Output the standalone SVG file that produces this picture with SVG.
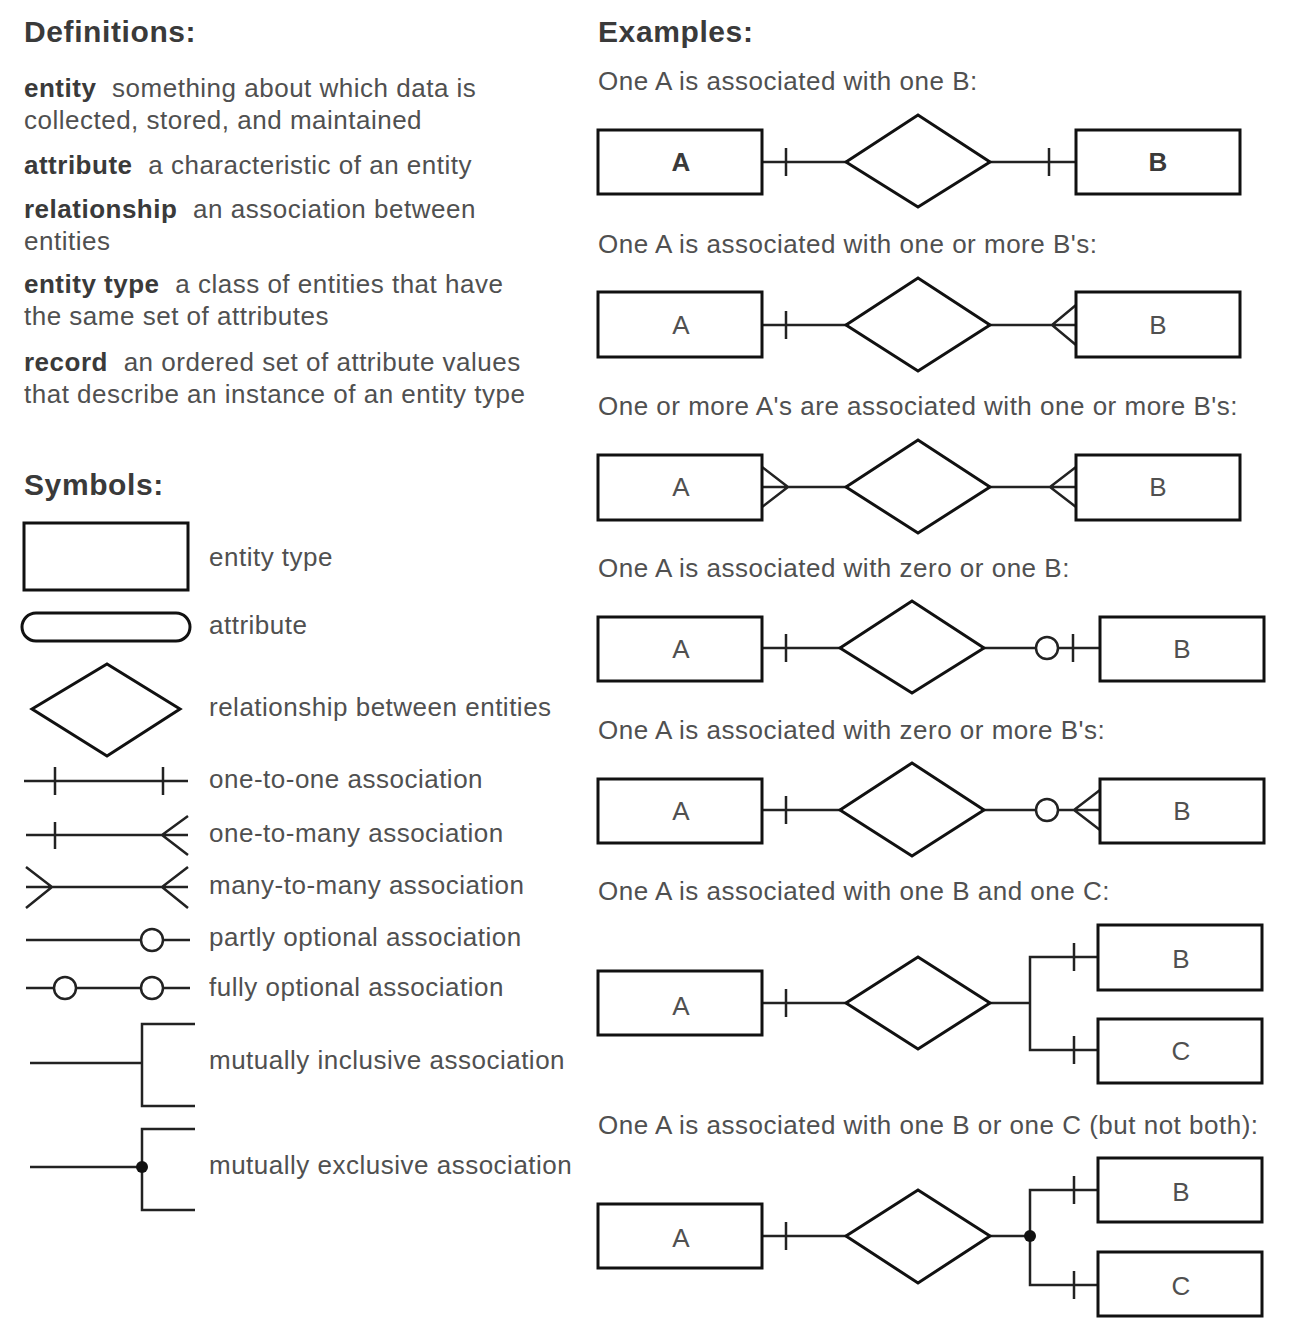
<svg xmlns="http://www.w3.org/2000/svg" width="1296" height="1340" viewBox="0 0 1296 1340">
<style>
text{font-family:"Liberation Sans",Arial,sans-serif;fill:#505050;font-size:26px;letter-spacing:0.5px}
.h{font-weight:bold;font-size:30px;letter-spacing:0.6px;fill:#3a3a3a}
.b{font-weight:bold;fill:#3a3a3a}
.lbl{text-anchor:middle;letter-spacing:0}
.box{fill:#fff;stroke:#111;stroke-width:3}
.ln{fill:none;stroke:#222;stroke-width:2.5}
.circ{fill:#fff;stroke:#222;stroke-width:2.5}
</style>
<rect width="1296" height="1340" fill="#fff"/>

<g id="definitions">
<text class="h" x="24" y="42">Definitions:</text>
<text x="24" y="97"><tspan class="b">entity</tspan> <tspan dx="8">something about which data is</tspan></text>
<text x="24" y="129">collected, stored, and maintained</text>
<text x="24" y="174"><tspan class="b">attribute</tspan> <tspan dx="8">a characteristic of an entity</tspan></text>
<text x="24" y="218"><tspan class="b">relationship</tspan> <tspan dx="8">an association between</tspan></text>
<text x="24" y="250">entities</text>
<text x="24" y="293"><tspan class="b">entity type</tspan> <tspan dx="8">a class of entities that have</tspan></text>
<text x="24" y="325">the same set of attributes</text>
<text x="24" y="371"><tspan class="b">record</tspan> <tspan dx="8">an ordered set of attribute values</tspan></text>
<text x="24" y="403">that describe an instance of an entity type</text>
</g>

<g id="symbols">
<text class="h" x="24" y="495">Symbols:</text>
<g id="sym-entity"><rect class="box" x="24" y="523" width="164" height="67"/><text x="209" y="566">entity type</text></g>
<g id="sym-attribute"><rect class="box" x="22" y="613" width="168" height="28" rx="14"/><text x="209" y="634">attribute</text></g>
<g id="sym-relationship"><polygon class="box" points="32,709 107,664 180,709 107,756"/><text x="209" y="716">relationship between entities</text></g>
<g id="sym-1to1"><path class="ln" d="M24,781H188M55,767V795M163,767V795"/><text x="209" y="788">one-to-one association</text></g>
<g id="sym-1toM"><path class="ln" d="M26,835H188M55,822V849M188,816L162,835L188,855"/><text x="209" y="842">one-to-many association</text></g>
<g id="sym-MtoM"><path class="ln" d="M26,887H188M26,867L52,887L26,908M188,867L162,887L188,908"/><text x="209" y="894">many-to-many association</text></g>
<g id="sym-partly"><path class="ln" d="M26,940H190"/><circle class="circ" cx="152" cy="940" r="11"/><text x="209" y="946">partly optional association</text></g>
<g id="sym-fully"><path class="ln" d="M26,988H190"/><circle class="circ" cx="65" cy="988" r="11"/><circle class="circ" cx="152" cy="988" r="11"/><text x="209" y="996">fully optional association</text></g>
<g id="sym-inclusive"><path class="ln" d="M30,1063H142M195,1024H142V1106H195"/><text x="209" y="1069">mutually inclusive association</text></g>
<g id="sym-exclusive"><path class="ln" d="M30,1167H142M195,1129H142V1210H195"/><circle cx="142" cy="1167" r="6" fill="#111"/><text x="209" y="1174">mutually exclusive association</text></g>
</g>

<g id="examples">
<text class="h" x="598" y="42">Examples:</text>
<text x="598" y="90">One A is associated with one B:</text>
<text x="598" y="253">One A is associated with one or more B's:</text>
<text x="598" y="415">One or more A's are associated with one or more B's:</text>
<text x="598" y="577">One A is associated with zero or one B:</text>
<text x="598" y="739">One A is associated with zero or more B's:</text>
<text x="598" y="900">One A is associated with one B and one C:</text>
<text x="598" y="1134">One A is associated with one B or one C (but not both):</text>
</g>

<g id="connectors">
<path class="ln" d="M762,162H846M786,148V176M990,162H1076M1049,148V176"/>
<path class="ln" d="M762,325H846M786,311V339M990,325H1076M1076,305L1052,325L1076,345"/>
<path class="ln" d="M762,487H846M762,467L788,487L762,507M990,487H1076M1076,467L1050,487L1076,507"/>
<path class="ln" d="M762,648H840M786,634V662M984,648H1100M1073,634V662"/>
<circle class="circ" cx="1047" cy="648" r="11"/>
<path class="ln" d="M762,810H840M786,796V824M984,810H1100M1100,790L1074,810L1100,830"/>
<circle class="circ" cx="1047" cy="810" r="11"/>
<path class="ln" d="M762,1003H846M786,989V1017M990,1003H1030M1098,957H1030V1050H1098M1074,943V971M1074,1036V1064"/>
<path class="ln" d="M762,1236H846M786,1222V1250M990,1236H1030M1098,1190H1030V1285H1098M1074,1176V1204M1074,1271V1299"/>
<circle cx="1030" cy="1236" r="6" fill="#111"/>
</g>

<g id="r1-A"><rect class="box" x="598" y="130" width="164" height="64"/><text class="lbl b" x="681" y="171">A</text></g>
<g id="r1-rel"><polygon class="box" points="846,162 918,115 990,162 918,207"/></g>
<g id="r1-B"><rect class="box" x="1076" y="130" width="164" height="64"/><text class="lbl b" x="1158" y="171">B</text></g>

<g id="r2-A"><rect class="box" x="598" y="292" width="164" height="65"/><text class="lbl" x="681" y="334">A</text></g>
<g id="r2-rel"><polygon class="box" points="846,325 918,278 990,325 918,371"/></g>
<g id="r2-B"><rect class="box" x="1076" y="292" width="164" height="65"/><text class="lbl" x="1158" y="334">B</text></g>

<g id="r3-A"><rect class="box" x="598" y="455" width="164" height="65"/><text class="lbl" x="681" y="496">A</text></g>
<g id="r3-rel"><polygon class="box" points="846,487 918,440 990,487 918,533"/></g>
<g id="r3-B"><rect class="box" x="1076" y="455" width="164" height="65"/><text class="lbl" x="1158" y="496">B</text></g>

<g id="r4-A"><rect class="box" x="598" y="617" width="164" height="64"/><text class="lbl" x="681" y="658">A</text></g>
<g id="r4-rel"><polygon class="box" points="840,648 912,601 984,648 912,693"/></g>
<g id="r4-B"><rect class="box" x="1100" y="617" width="164" height="64"/><text class="lbl" x="1182" y="658">B</text></g>

<g id="r5-A"><rect class="box" x="598" y="779" width="164" height="64"/><text class="lbl" x="681" y="820">A</text></g>
<g id="r5-rel"><polygon class="box" points="840,810 912,763 984,810 912,856"/></g>
<g id="r5-B"><rect class="box" x="1100" y="779" width="164" height="64"/><text class="lbl" x="1182" y="820">B</text></g>

<g id="r6-A"><rect class="box" x="598" y="971" width="164" height="64"/><text class="lbl" x="681" y="1015">A</text></g>
<g id="r6-rel"><polygon class="box" points="846,1003 918,957 990,1003 918,1049"/></g>
<g id="r6-B"><rect class="box" x="1098" y="925" width="164" height="65"/><text class="lbl" x="1181" y="968">B</text></g>
<g id="r6-C"><rect class="box" x="1098" y="1019" width="164" height="64"/><text class="lbl" x="1181" y="1060">C</text></g>

<g id="r7-A"><rect class="box" x="598" y="1204" width="164" height="64"/><text class="lbl" x="681" y="1247">A</text></g>
<g id="r7-rel"><polygon class="box" points="846,1236 918,1190 990,1236 918,1283"/></g>
<g id="r7-B"><rect class="box" x="1098" y="1158" width="164" height="64"/><text class="lbl" x="1181" y="1201">B</text></g>
<g id="r7-C"><rect class="box" x="1098" y="1252" width="164" height="64"/><text class="lbl" x="1181" y="1295">C</text></g>
</svg>
